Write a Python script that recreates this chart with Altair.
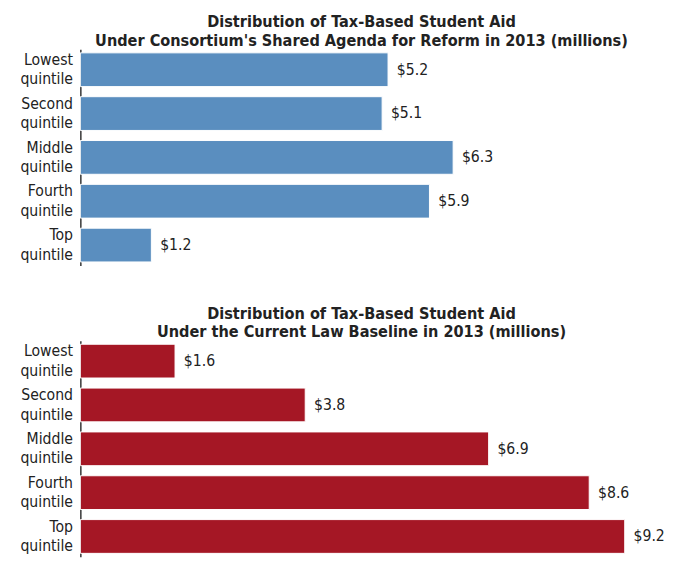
import altair as alt
import pandas as pd

categories = ["Lowest quintile", "Second quintile", "Middle quintile", "Fourth quintile", "Top quintile"]
reform_values = [5.2, 5.1, 6.3, 5.9, 1.2]
baseline_values = [1.6, 3.8, 6.9, 8.6, 9.2]
titles = [
    ["Distribution of Tax-Based Student Aid", "Under Consortium's Shared Agenda for Reform in 2013 (millions)"],
    ["Distribution of Tax-Based Student Aid", "Under the Current Law Baseline in 2013 (millions)"],
]
colors = ["#5a8ebf", "#a51725"]

FONT = "'DejaVu Sans Condensed', 'Roboto Condensed', Roboto, sans-serif"

def panel(values, title, color):
    df = pd.DataFrame({"cat": categories, "val": values})
    df["lab"] = ["$" + format(v, ".1f") for v in values]
    y = alt.Y("cat:N", sort=categories, title=None,
              scale=alt.Scale(paddingInner=0.23, paddingOuter=0.08),
              axis=alt.Axis(ticks=False, grid=False, domain=True, domainColor="#333333",
                            domainWidth=1.5, labelExpr="split(datum.label, ' ')",
                            labelFont=FONT, labelFontSize=16, labelColor="#222222",
                            labelPadding=8, labelLineHeight=20, labelAlign="right",
                            labelBaseline="middle", labelOffset=-10))
    x = alt.X("val:Q", title=None, scale=alt.Scale(domain=[0, 9.8], nice=False),
              axis=None)
    base = alt.Chart(df)
    bars = base.mark_bar(color=color, stroke="white", strokeWidth=1).encode(x=x, y=y)
    text = base.mark_text(align="left", dx=9, font=FONT, fontSize=16, color="#222222").encode(
        x=x, y=alt.Y("cat:N", sort=categories), text="lab:N")
    return alt.layer(bars, text).properties(
        width=593, height=221,
        title=alt.TitleParams(title, font=FONT, fontSize=16.5, fontWeight="bold",
                              color="#222222", anchor="middle", offset=0, lineHeight=19,
                              dx=-9)
    )

chart = alt.vconcat(
    panel(reform_values, titles[0], colors[0]),
    panel(baseline_values, titles[1], colors[1]),
    spacing=41,
).properties(
    padding={"left": 12, "top": 0, "right": 5, "bottom": 0}
).configure(background="white", view=alt.ViewConfig(stroke=None))

chart.save("out.html", embed_options={"renderer": "svg", "actions": False})
